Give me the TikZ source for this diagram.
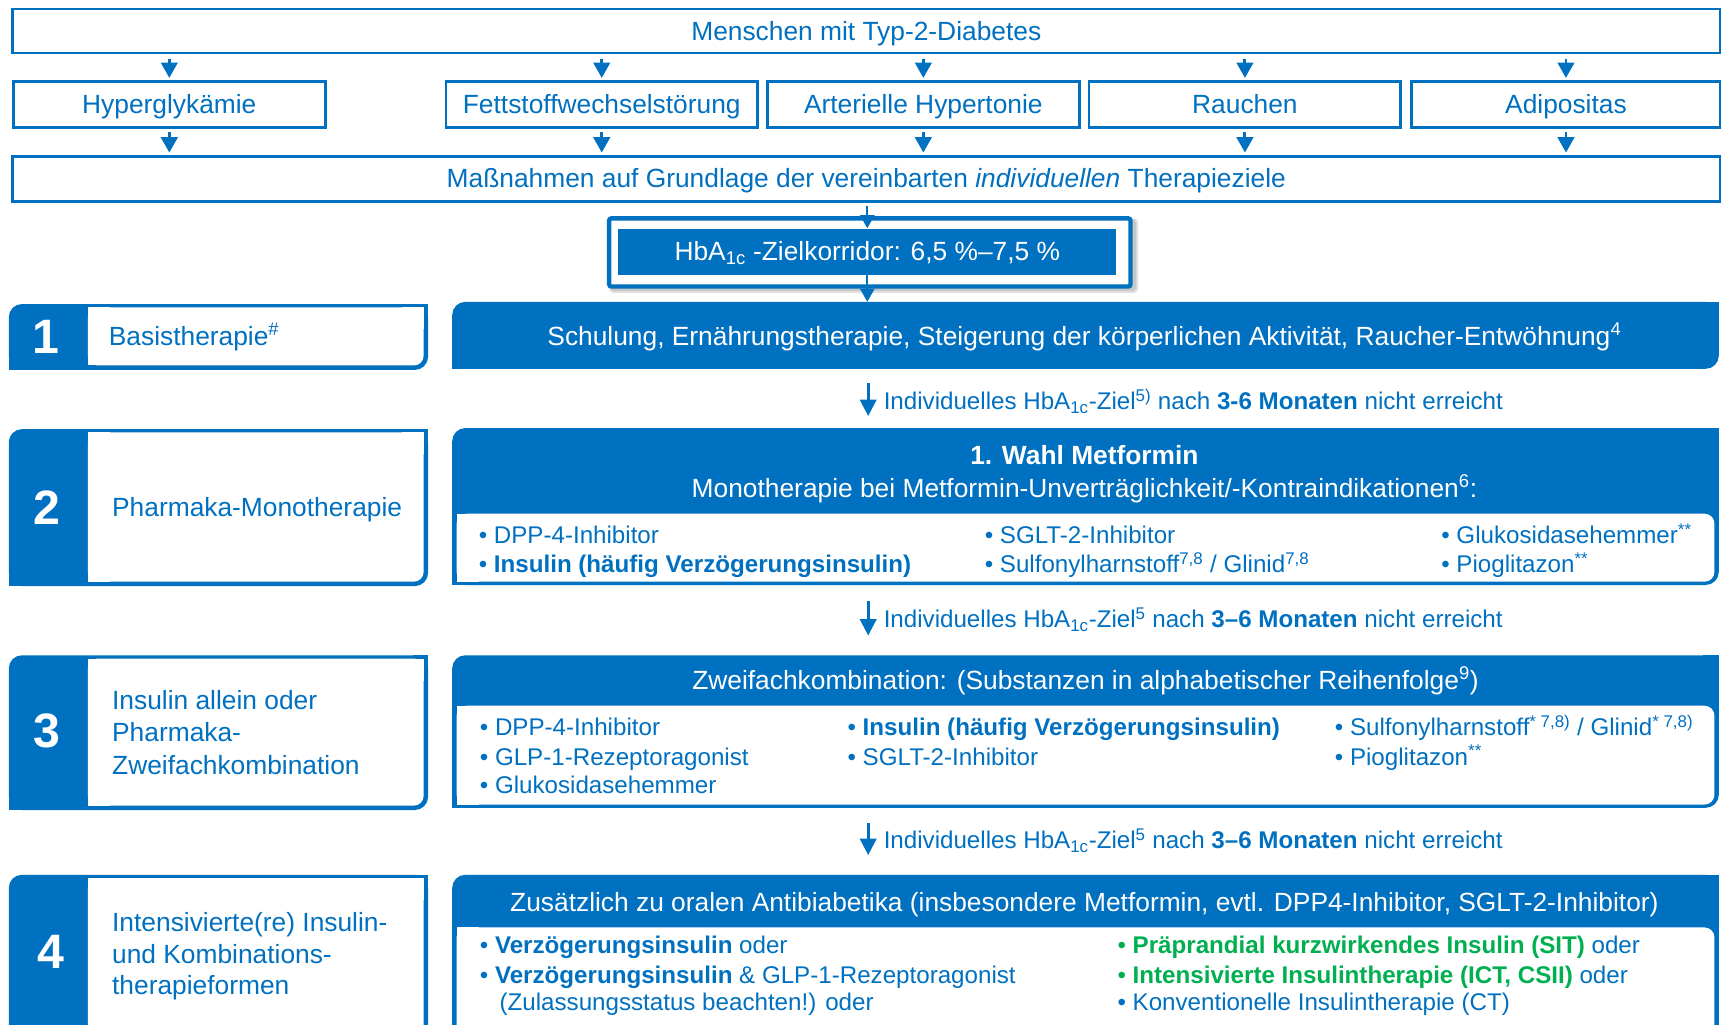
\documentclass[tikz,border=0pt]{standalone}
\usepackage{fontspec}
\setmainfont{Liberation Sans}
\usetikzlibrary{arrows.meta}
\definecolor{dblue}{RGB}{0,112,192}
\definecolor{dgreen}{RGB}{0,176,80}
\newcommand{\fsz}[2]{\fontsize{#1}{#2}\selectfont}
% left step box: ytop, ybot
\newcommand{\bluetab}[2]{%
  \fill[dblue,rounded corners=12pt] (8,#1) rectangle (390,#2);
  \fill[dblue] (8,#2-14) rectangle (22,#2);
  \fill[dblue] (376,#1) rectangle (390,#1+14);
  \fill[white,rounded corners=9pt] (80,#1+3) rectangle (386,#2-4);
  \fill[white] (80,#1+3) rectangle (100,#1+23);
  \fill[white] (366,#1+3) rectangle (386,#1+23);
  \fill[white] (80,#2-24) rectangle (100,#2-4);
}
% right box with header: ytop, header bottom, ybot
\newcommand{\rightbox}[3]{%
  \fill[dblue,rounded corners=12pt] (412,#1) rectangle (1566,#3);
  \fill[dblue] (412,#3-14) rectangle (426,#3);
  \fill[dblue] (1552,#1) rectangle (1566,#1+14);
  \fill[white,rounded corners=9pt] (416,#2) rectangle (1562,#3-3);
  \fill[white] (416,#2) rectangle (436,#2+20);
  \fill[white] (416,#3-23) rectangle (436,#3-3);
}
\tikzset{
  frame/.style={draw=dblue,line width=2.5pt,fill=white,text=dblue,font=\fsz{24}{28},inner sep=0pt,
                text height=17.5pt,text depth=0.5pt,anchor=north west},
  arr/.style={dblue,line width=2.7pt,-{Triangle[width=15pt,length=14pt]}},
  smallarr/.style={dblue,line width=2pt,-{Triangle[width=13pt,length=12pt]}},
  thinarr/.style={dblue,line width=2.4pt,-{Triangle[width=15pt,length=15pt]}},
  area/.style={inner sep=0pt,anchor=north west},
  wtxt/.style={text=white,font=\fsz{24}{30},inner sep=0pt,anchor=base},
  btxt/.style={text=dblue,font=\fsz{22}{26},inner sep=0pt,anchor=base west},
  itm/.style={text=dblue,font=\fsz{22}{26},inner sep=0pt,anchor=base west},
  num/.style={text=white,font=\bfseries\fsz{44}{44},inner sep=0pt,anchor=base},
  lab/.style={text=dblue,font=\fsz{24}{29},inner sep=0pt,anchor=base west},
}
\begin{document}
\begin{tikzpicture}[x=1pt,y=-1pt]
\useasboundingbox (0,0) rectangle (1568,933);
\clip (0,0) rectangle (1568,933);

% --- top rows
\node[frame,minimum width=1556pt,minimum height=40pt] (top) at (10,7) {Menschen mit Typ-2-Diabetes};
\node[frame,minimum width=284pt,minimum height=42pt] (hyp) at (11,73) {Hyperglykämie};
\node[frame,minimum width=284pt,minimum height=42pt] (fett) at (405,73) {Fettstoffwechselstörung};
\node[frame,minimum width=284pt,minimum height=42pt] (art) at (698,73) {Arterielle Hypertonie};
\node[frame,minimum width=284pt,minimum height=42pt] (rau) at (991,73) {Rauchen};
\node[frame,minimum width=281pt,minimum height=42pt] (adi) at (1285,73) {Adipositas};
\node[frame,minimum width=1556pt,minimum height=41pt] (mass) at (10,141) {Maßnahmen auf Grundlage der vereinbarten \textit{individuellen} Therapieziele};

\foreach \n in {hyp,fett,art,rau,adi}{
  \draw[arr,shorten <=4pt,shorten >=2pt] (top.south -| \n.north) -- (\n.north);
  \draw[arr,shorten <=3pt,shorten >=2pt] (\n.south) -- (mass.north -| \n.south);
}

% --- HbA1c target (with soft shadow)
\fill[black!12,rounded corners=4pt] (555,199) rectangle (1037,267);
\fill[black!22,rounded corners=3pt] (556,200) rectangle (1035,265);
\node[draw=dblue,line width=4pt,fill=white,rounded corners=2pt,minimum width=475pt,minimum height=62pt,area] (hbaframe) at (553,197) {};
\node[fill=dblue,minimum width=454pt,minimum height=42pt,area,text=white,font=\fsz{24}{28},
      text height=17.5pt,text depth=0.5pt] (hba) at (563,208)
  {HbA\textsubscript{1c} -Zielkorridor: 6,5 \%–7,5 \%};

% --- right boxes (areas)
\node[area,minimum width=1154pt,minimum height=61pt] (r1) at (412,275) {};
\node[area,minimum width=1154pt,minimum height=143pt] (r2) at (412,390) {};
\node[area,minimum width=1153pt,minimum height=139pt] (r3) at (413,597) {};
\node[area,minimum width=1153pt,minimum height=200pt] (r4) at (413,797) {};

\draw[smallarr,shorten <=3pt] (mass.south -| hba.north) -- (hba.north);
\draw[smallarr] (hba.south) -- (r1.north -| hba.south);

% --- row 1
\bluetab{277}{337}
\fill[dblue,rounded corners=12pt] (412,275) rectangle (1566,336);
\fill[dblue] (412,322) rectangle (426,336);
\fill[dblue] (1552,275) rectangle (1566,289);
\node[num] (n1) at (42,322) {1};
\node[lab] (l1) at (99,314.5) {Basistherapie\textsuperscript{\#}};
\node[wtxt] (t1) at (988,314.5) {Schulung, Ernährungstherapie, Steigerung der körperlichen Aktivität, Raucher-Entwöhnung\textsuperscript{4}};

\coordinate (i1a) at (791,349); \coordinate (i1b) at (791,379);
\draw[thinarr] (i1a) -- (i1b);
\node[btxt] (i1) at (805,373) {Individuelles HbA\textsubscript{1c}-Ziel\textsuperscript{5)} nach \textbf{3-6 Monaten} nicht erreicht};

% --- row 2
\bluetab{391}{534}
\rightbox{390}{468}{533}
\node[num] (n2) at (43,478) {2};
\node[lab] (l2) at (102,470.5) {Pharmaka-Monotherapie};
\node[wtxt] (h2a) at (988,423.5) {\bfseries 1. Wahl Metformin};
\node[wtxt] (h2b) at (988,453.5) {Monotherapie bei Metformin-Unverträglichkeit/-Kontraindikationen\textsuperscript{6}:};
\node[itm] at (436,495) {\textbullet\ DPP-4-Inhibitor};
\node[itm] at (436,522) {\textbullet\ \textbf{Insulin (häufig Verzögerungsinsulin)}};
\node[itm] at (897,495) {\textbullet\ SGLT-2-Inhibitor};
\node[itm] at (897,522) {\textbullet\ Sulfonylharnstoff\textsuperscript{7,8} / Glinid\textsuperscript{7,8}};
\node[itm] at (1313,495) {\textbullet\ Glukosidasehemmer\textsuperscript{**}};
\node[itm] at (1313,522) {\textbullet\ Pioglitazon\textsuperscript{**}};

\coordinate (i2a) at (791,548); \coordinate (i2b) at (791,579);
\draw[thinarr] (i2a) -- (i2b);
\node[btxt] (i2) at (805,572) {Individuelles HbA\textsubscript{1c}-Ziel\textsuperscript{5} nach \textbf{3–6 Monaten} nicht erreicht};

% --- row 3
\bluetab{597}{738}
\rightbox{597}{643}{736}
\node[num] (n3) at (43,681) {3};
\node[lab] at (102,646.5) {Insulin allein oder};
\node[lab] at (102,675.5) {Pharmaka-};
\node[lab] at (102,705.5) {Zweifachkombination};
\node[wtxt] (h3) at (989,628.5) {Zweifachkombination: (Substanzen in alphabetischer Reihenfolge\textsuperscript{9})};
\node[itm] at (437,670) {\textbullet\ DPP-4-Inhibitor};
\node[itm] at (437,697) {\textbullet\ GLP-1-Rezeptoragonist};
\node[itm] at (437,723) {\textbullet\ Glukosidasehemmer};
\node[itm] at (772,670) {\textbullet\ \textbf{Insulin (häufig Verzögerungsinsulin)}};
\node[itm] at (772,697) {\textbullet\ SGLT-2-Inhibitor};
\node[itm] at (1216,670) {\textbullet\ Sulfonylharnstoff\textsuperscript{* 7,8)} / Glinid\textsuperscript{* 7,8)}};
\node[itm] at (1216,697) {\textbullet\ Pioglitazon\textsuperscript{**}};

\coordinate (i3a) at (791,750); \coordinate (i3b) at (791,779);
\draw[thinarr] (i3a) -- (i3b);
\node[btxt] (i3) at (805,773) {Individuelles HbA\textsubscript{1c}-Ziel\textsuperscript{5} nach \textbf{3–6 Monaten} nicht erreicht};

% --- row 4
\bluetab{797}{1000}
\rightbox{797}{845}{1000}
\node[num] (n4) at (46,882) {4};
\node[lab] at (102,848.5) {Intensivierte(re) Insulin-};
\node[lab] at (102,877.5) {und Kombinations-};
\node[lab] at (102,906.5) {therapieformen};
\node[wtxt] (h4) at (988,830.5) {Zusätzlich zu oralen Antibiabetika (insbesondere Metformin, evtl. DPP4-Inhibitor, SGLT-2-Inhibitor)};
\node[itm] at (437,869) {\textbullet\ \textbf{Verzögerungsinsulin} oder};
\node[itm] at (437,896) {\textbullet\ \textbf{Verzögerungsinsulin} \& GLP-1-Rezeptoragonist};
\node[itm] at (455,921) {(Zulassungsstatus beachten!) oder};
\node[itm] at (1018,869) {{\color{dgreen}\textbullet\ \textbf{Präprandial kurzwirkendes Insulin (SIT)}} oder};
\node[itm] at (1018,896) {{\color{dgreen}\textbullet\ \textbf{Intensivierte Insulintherapie (ICT, CSII)}} oder};
\node[itm] at (1018,921) {\textbullet\ Konventionelle Insulintherapie (CT)};
\end{tikzpicture}
\end{document}
